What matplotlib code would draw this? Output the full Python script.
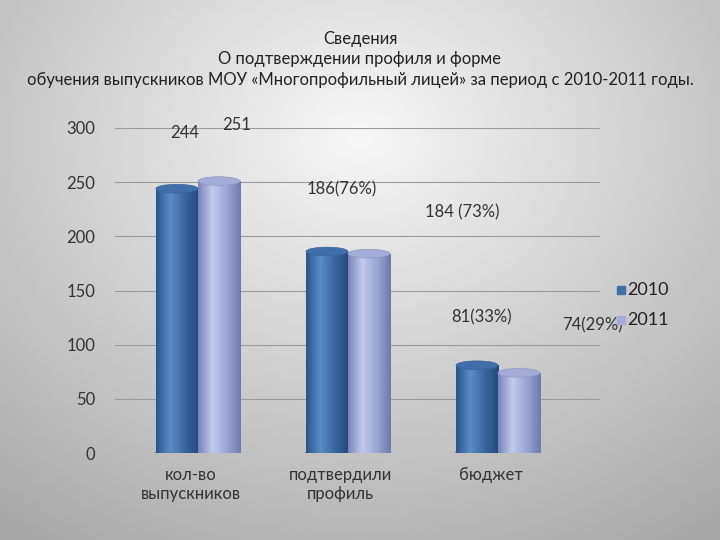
import numpy as np
import matplotlib
matplotlib.use("Agg")
import matplotlib.pyplot as plt
from matplotlib.patches import Ellipse, Rectangle
from matplotlib.colors import LinearSegmentedColormap

categories = ["кол-во\nвыпускников", "подтвердили\nпрофиль", "бюджет"]
series_names = ["2010", "2011"]
values_2010 = [244, 186, 81]
values_2011 = [251, 184, 74]
labels_2010 = ["244", "186(76%)", "81(33%)"]
labels_2011 = ["251", "184 (73%)", "74(29%)"]
yticks = [0, 50, 100, 150, 200, 250, 300]

plt.rcParams['font.family'] = ['Lato', 'DejaVu Sans']
fig = plt.figure(figsize=(7.2, 5.4), dpi=100)

bg = fig.add_axes([0, 0, 1, 1], zorder=-10)
yy, xx = np.mgrid[0:1:200j, 0:1:200j]
r = np.sqrt((xx - 0.5) ** 2 * 1.2 + (yy - 0.75) ** 2)
bg.imshow(r, cmap=LinearSegmentedColormap.from_list("bg", ["#f7f7f7", "#a9a9a9"]),
          extent=[0, 1, 0, 1], aspect="auto", origin="lower", vmin=0, vmax=0.9)
bg.axis("off")

ax = fig.add_axes([115/720, 87/540, 485/720, 325/540])
ax.set_facecolor("none")
ax.set_xlim(-0.553, 2.68)
ax.set_ylim(0, 300)
for s in ax.spines.values():
    s.set_visible(False)
ax.set_yticks(yticks)
ax.yaxis.grid(True, color="#9a9a9a", lw=0.8)
ax.set_axisbelow(True)
ax.tick_params(length=0, labelsize=12, colors="#333333", pad=14)
ax.set_xticks([])
for i, c in enumerate(categories):
    ax.text(i - 0.05, -13, c, ha="center", va="top", fontsize=12, color="#333333")

w = 0.28
cm10 = LinearSegmentedColormap.from_list("a", ["#2b5587", "#5b8cc8", "#3a679f", "#24497a"])
cm11 = LinearSegmentedColormap.from_list("b", ["#7683b8", "#c3cbeb", "#9aa6d6", "#6f7bab"])
grad = np.linspace(0, 1, 100).reshape(1, -1)
eh = 8
for vals, off, cm, top in [(values_2010, -0.14, cm10, "#3f6ea8"), (values_2011, 0.14, cm11, "#a3add8")]:
    for i, v in enumerate(vals):
        x0 = i + off - w/2
        im = ax.imshow(grad, cmap=cm, extent=[x0, x0 + w, 0, v], aspect="auto", zorder=2)
        rect = Rectangle((x0, 0), w, v, transform=ax.transData, facecolor="none")
        ax.add_patch(rect)
        im.set_clip_path(rect)
        ax.add_patch(Ellipse((i + off, 0), w, eh, color=cm(0.9), zorder=1.9))
        ax.add_patch(Ellipse((i + off, v), w, eh, color=top, ec=cm(0.1), lw=0.5, zorder=3))

lab_pos_2010 = [(-0.09, 295), (0.96, 243), (1.89, 125)]
lab_pos_2011 = [(0.26, 303), (1.76, 222), (2.63, 118)]
for (x, y), t in zip(lab_pos_2010, labels_2010):
    ax.text(x, y, t, ha="center", va="center", fontsize=12, color="#333333", clip_on=False)
for (x, y), t in zip(lab_pos_2011, labels_2011):
    ax.text(x, y, t, ha="center", va="center", fontsize=12, color="#333333", clip_on=False)

fig.patches.append(Rectangle((617/720, 246/540), 8/720, 8/540, transform=fig.transFigure, color="#3f6ea8"))
fig.text(627/720, 250/540, "2010", fontsize=13, va="center", color="#222222")
fig.patches.append(Rectangle((617/720, 216/540), 8/720, 8/540, transform=fig.transFigure, color="#a3add8"))
fig.text(627/720, 220/540, "2011", fontsize=13, va="center", color="#222222")

fig.text(0.5, 1 - 88/540, "Сведения\nО подтверждении профиля и форме\nобучения выпускников МОУ «Многопрофильный лицей» за период с 2010-2011 годы.",
         ha="center", va="bottom", fontsize=12, color="#222222", linespacing=1.35)

fig.savefig("out.png", dpi=100)
